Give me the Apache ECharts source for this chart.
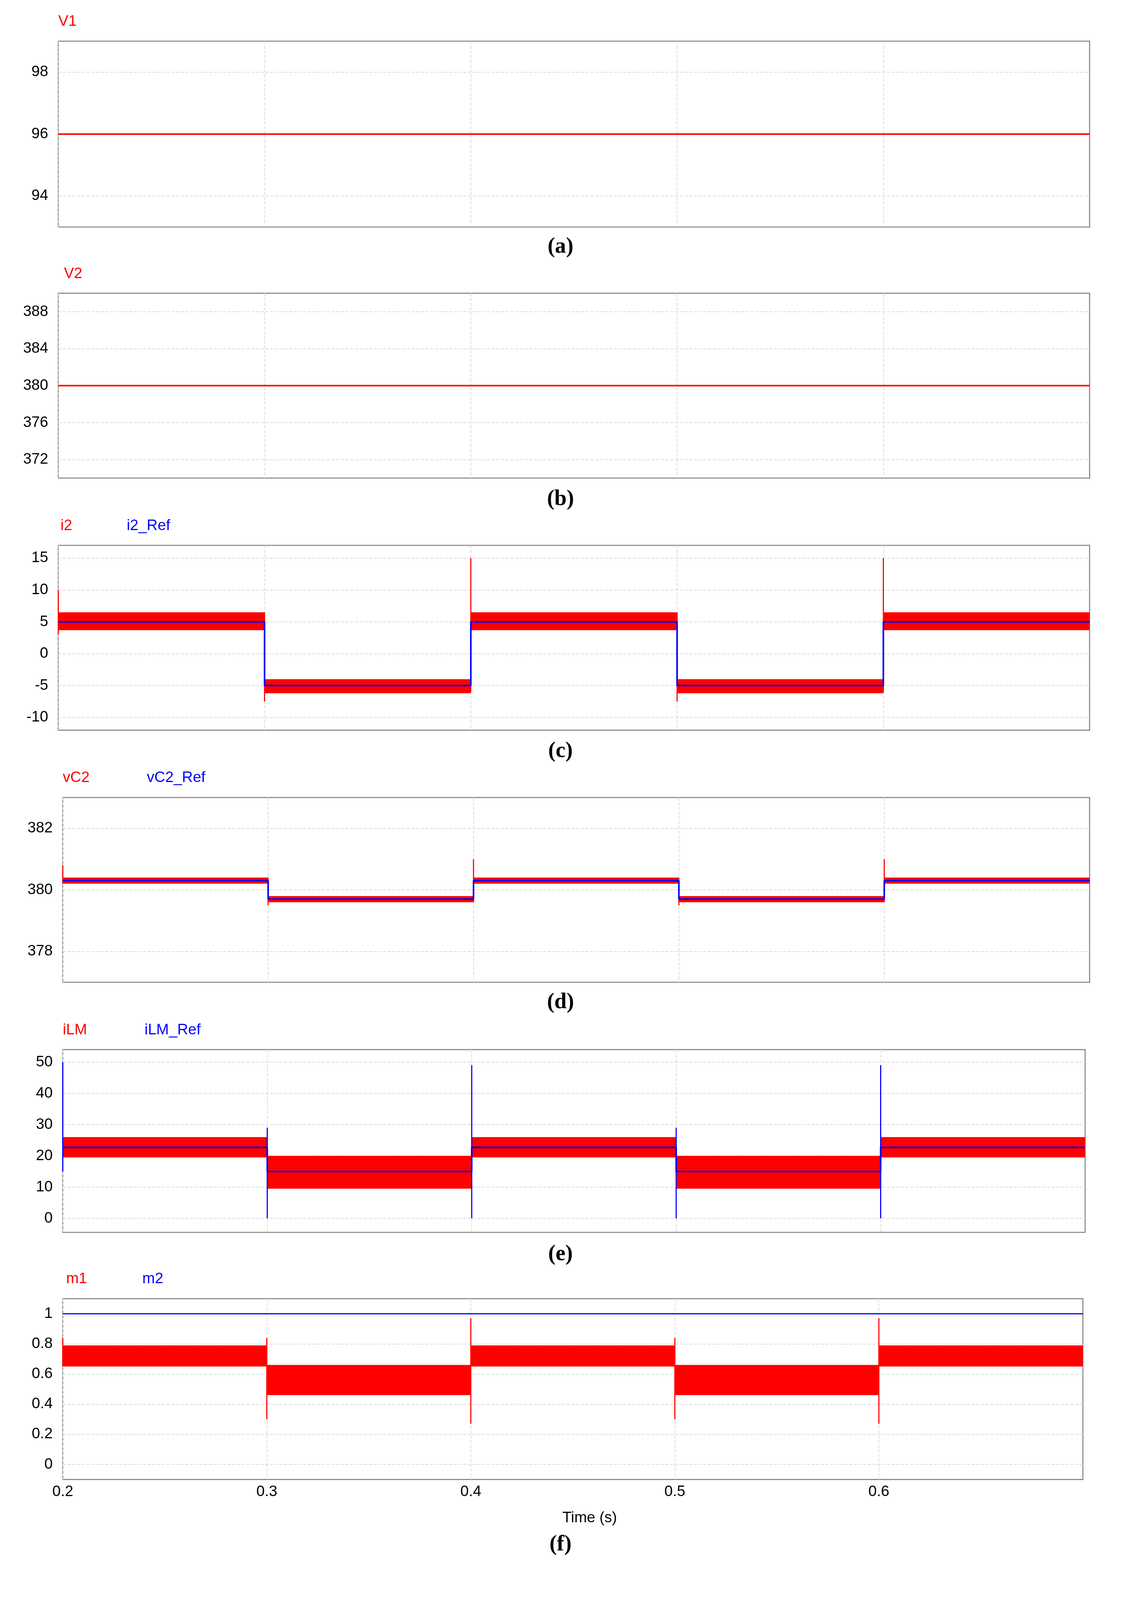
<!DOCTYPE html>
<html><head><meta charset="utf-8">
<script src="https://cdn.jsdelivr.net/npm/echarts@6/dist/echarts.min.js"></script>
<style>html,body{margin:0;background:#fff;overflow:hidden}#c{width:100vw;height:100vh}</style>
</head><body><div id="c"></div>
<script>
var edges = [0.2, 0.3, 0.4, 0.5, 0.6, 0.7];
var xTicks = [0.2, 0.3, 0.4, 0.5, 0.6];

var v1 = 96, v2 = 380;
var i2Hi = [6.5, -4, 6.5, -4, 6.5], i2Lo = [3.7, -6.2, 3.7, -6.2, 3.7], i2Ref = [5, -5, 5, -5, 5];
var i2Spk = [[0.2, 3, 10], [0.3, -7.5, 6.5], [0.4, -6, 15], [0.5, -7.5, 6.5], [0.6, -6, 15]];
var vcHi = [380.4, 379.8, 380.4, 379.8, 380.4], vcLo = [380.2, 379.6, 380.2, 379.6, 380.2], vcRef = [380.3, 379.7, 380.3, 379.7, 380.3];
var vcSpk = [[0.2, 380.2, 380.8], [0.3, 379.5, 380.4], [0.4, 379.6, 381], [0.5, 379.5, 380.4], [0.6, 379.6, 381]];
var ilHi = [26, 20, 26, 20, 26], ilLo = [19.5, 9.5, 19.5, 9.5, 19.5], ilRef = [22.7, 15, 22.7, 15, 22.7];
var ilSpk = [[0.2, 15, 50], [0.3, 0, 29], [0.4, 0, 49], [0.5, 0, 29], [0.6, 0, 49]];
var m1Hi = [0.79, 0.66, 0.79, 0.66, 0.79], m1Lo = [0.65, 0.46, 0.65, 0.46, 0.65], m2 = 1;
var m1Spk = [[0.2, 0.65, 0.84], [0.3, 0.3, 0.84], [0.4, 0.27, 0.97], [0.5, 0.3, 0.84], [0.6, 0.27, 0.97]];

// layout in reference units (1000 x 1593)
var panels = [
  {top: 41, h: 185, left: 52, right: 28, min: 93, max: 99, ticks: [94, 96, 98], names: ['V1'], nx: [52]},
  {top: 292, h: 184, left: 52, right: 28, min: 370, max: 390, ticks: [372, 376, 380, 384, 388], names: ['V2'], nx: [57]},
  {top: 543, h: 184, left: 52, right: 28, min: -12, max: 17, ticks: [-10, -5, 0, 5, 10, 15], names: ['i2', 'i2_Ref'], nx: [54, 113]},
  {top: 794, h: 184, left: 56, right: 28, min: 377, max: 383, ticks: [378, 380, 382], names: ['vC2', 'vC2_Ref'], nx: [56, 131]},
  {top: 1045, h: 182, left: 56, right: 32, min: -4.5, max: 54, ticks: [0, 10, 20, 30, 40, 50], names: ['iLM', 'iLM_Ref'], nx: [56, 129]},
  {top: 1293, h: 180, left: 56, right: 34, min: -0.1, max: 1.1, ticks: [0, 0.2, 0.4, 0.6, 0.8, 1], names: ['m1', 'm2'], nx: [59, 127]}
];
var tags = ['(a)', '(b)', '(c)', '(d)', '(e)', '(f)'];
var tagY = [248, 499, 750, 1000, 1251, 1540];

var W = window.innerWidth, H = window.innerHeight;
var sx = W / 1000, sy = H / 1593, fs = 15 * Math.min(sx, sy);

var dash = {lineStyle: {color: '#dcdcdc', type: 'dashed', width: 0.7 * sx}};
var grids = [], xAxes = [], yAxes = [], series = [], graphics = [];

function stepLine(vals) {
  var pts = [];
  vals.forEach(function (v, k) { pts.push([edges[k], v], [edges[k + 1], v]); });
  return pts;
}
function flat(v) { return [[edges[0], v], [edges[edges.length - 1], v]]; }
function band(i, hi, lo) {
  series.push({type: 'custom', xAxisIndex: i, yAxisIndex: i, silent: true,
    data: hi.map(function (h, k) { return [edges[k], edges[k + 1], lo[k], h]; }),
    renderItem: function (p, api) {
      var a = api.coord([api.value(0), api.value(3)]), b = api.coord([api.value(1), api.value(2)]);
      return {type: 'rect', shape: {x: a[0], y: a[1], width: b[0] - a[0], height: b[1] - a[1]}, style: {fill: '#ff0000'}};
    }});
}
function spikes(i, spk, color) {
  series.push({type: 'custom', xAxisIndex: i, yAxisIndex: i, silent: true, data: spk,
    renderItem: function (p, api) {
      var a = api.coord([api.value(0), api.value(1)]), b = api.coord([api.value(0), api.value(2)]);
      return {type: 'line', shape: {x1: a[0], y1: a[1], x2: b[0], y2: b[1]}, style: {stroke: color, lineWidth: 1 * sx}};
    }});
}
function line(i, pts, color, w) {
  series.push({type: 'line', xAxisIndex: i, yAxisIndex: i, data: pts, symbol: 'none', silent: true,
    lineStyle: {color: color, width: (w || 1.4) * sx}});
}

panels.forEach(function (p, i) {
  grids.push({left: p.left * sx, right: p.right * sx, top: p.top * sy, height: p.h * sy, show: true,
    borderColor: '#8c8c8c', borderWidth: sx, backgroundColor: '#fff'});
  var last = i === panels.length - 1;
  xAxes.push({type: 'value', gridIndex: i, min: 0.2, max: 0.7,
    axisLine: {show: false}, axisTick: {show: false, customValues: xTicks},
    axisLabel: {show: last, customValues: xTicks, fontSize: fs, color: '#000', fontFamily: 'Liberation Sans', margin: 5 * sy},
    splitLine: Object.assign({show: true}, dash),
    name: last ? 'Time (s)' : '', nameLocation: 'middle', nameGap: 31 * sy,
    nameTextStyle: {fontSize: fs, color: '#000', fontFamily: 'Liberation Sans', padding: [0, 0, 0, 30 * sx]}});
  yAxes.push({type: 'value', gridIndex: i, min: p.min, max: p.max,
    axisLine: {show: false}, axisTick: {show: false, customValues: p.ticks},
    axisLabel: {customValues: p.ticks, fontSize: fs, color: '#000', fontFamily: 'Liberation Sans', margin: 9 * sx},
    splitLine: Object.assign({show: true}, dash)});
  var cols = ['#ff0000', '#0000ff'];
  p.names.forEach(function (n, k) {
    graphics.push({type: 'text', left: p.nx[k] * sx, top: (p.top - 27) * sy,
      style: {text: n, fill: cols[k], fontSize: fs, fontFamily: 'Liberation Sans'}});
  });
  graphics.push({type: 'text', left: 'center', top: (tagY[i] - 13) * sy,
    style: {text: tags[i], fill: '#000', fontSize: 22 * Math.min(sx, sy), fontWeight: 'bold', fontFamily: 'Liberation Serif'}});
});

line(0, flat(v1), '#ff0000');
line(1, flat(v2), '#ff0000');
band(2, i2Hi, i2Lo); spikes(2, i2Spk, '#ff0000'); line(2, stepLine(i2Ref), '#0000ff');
band(3, vcHi, vcLo); spikes(3, vcSpk, '#ff0000'); line(3, stepLine(vcRef), '#0000ff');
band(4, ilHi, ilLo); spikes(4, ilSpk, '#0000ff'); line(4, stepLine(ilRef), '#0000ff');
band(5, m1Hi, m1Lo); spikes(5, m1Spk, '#ff0000'); line(5, flat(m2), '#0000ff', 1);

var chart = echarts.init(document.getElementById('c'));
chart.setOption({animation: false, grid: grids, xAxis: xAxes, yAxis: yAxes, series: series, graphic: graphics});
</script></body></html>
